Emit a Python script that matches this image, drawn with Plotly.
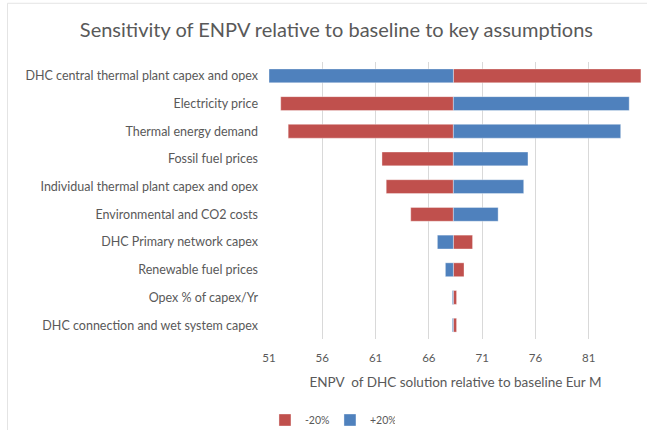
import plotly.graph_objects as go

categories = [
    "DHC central thermal plant capex and opex",
    "Electricity price",
    "Thermal energy demand",
    "Fossil fuel prices",
    "Individual thermal plant capex and opex",
    "Environmental and CO2 costs",
    "DHC Primary network capex",
    "Renewable fuel prices",
    "Opex % of capex/Yr",
    "DHC connection and wet system capex",
]
baseline = 68.3
minus20 = [85.9, 52.1, 52.8, 61.6, 62.0, 64.3, 70.1, 69.3, 68.6, 68.6]
plus20 = [51.0, 84.8, 84.0, 75.3, 74.9, 72.5, 66.8, 67.55, 68.2, 68.2]
tick_vals = [51, 56, 61, 66, 71, 76, 81]

RED = "#C0504D"
BLUE = "#4F81BD"
TXT = "#595959"
FONT = "Lato, Open Sans, sans-serif"

fig = go.Figure()
fig.add_trace(go.Bar(
    name="-20%", y=categories, x=[v - baseline for v in minus20], base=baseline,
    orientation="h", marker=dict(color=RED, line=dict(width=0.6, color="rgba(255,255,255,0.6)")),
))
fig.add_trace(go.Bar(
    name="+20%", y=categories, x=[v - baseline for v in plus20], base=baseline,
    orientation="h", marker=dict(color=BLUE, line=dict(width=0.6, color="rgba(255,255,255,0.6)")),
))

fig.update_layout(
    width=647, height=430,
    margin=dict(l=269, r=5, t=62, b=91),
    paper_bgcolor="white", plot_bgcolor="white",
    barmode="overlay", bargap=0.5,
    font=dict(family=FONT, color=TXT, size=11),
    title=dict(text="Sensitivity of ENPV relative to baseline to key assumptions",
               x=0.52, xref="container", xanchor="center",
               y=1 - 30 / 430, yref="container", yanchor="middle",
               font=dict(size=20, color=TXT, family=FONT)),
    xaxis=dict(range=[51, 86], tickvals=tick_vals, showgrid=True, gridcolor="#D9D9D9",
               gridwidth=1, zeroline=False, showline=False, ticks="",
               ticklabelstandoff=10,
               tickfont=dict(size=11.5, color=TXT),
               title=dict(text="ENPV  of DHC solution relative to baseline Eur M",
                          font=dict(size=13.5, color=TXT), standoff=15)),
    yaxis=dict(autorange="reversed", showgrid=False, zeroline=False, showline=False,
               ticks="", tickfont=dict(size=12.5, color=TXT), ticklabelstandoff=10),
    legend=dict(orientation="h", x=0.51, xref="container", xanchor="center",
                y=1 - 420 / 430, yref="container", yanchor="middle",
                entrywidth=20, entrywidthmode="pixels",
                font=dict(size=10.5, color=TXT), traceorder="normal"),
    showlegend=True,
)
fig.add_shape(type="rect", xref="paper", yref="paper",
              x0=-0.701, x1=1.2, y0=-0.5, y1=1.212,
              line=dict(color="#E4E4E4", width=1), layer="below")
fig.write_html("out.html")
